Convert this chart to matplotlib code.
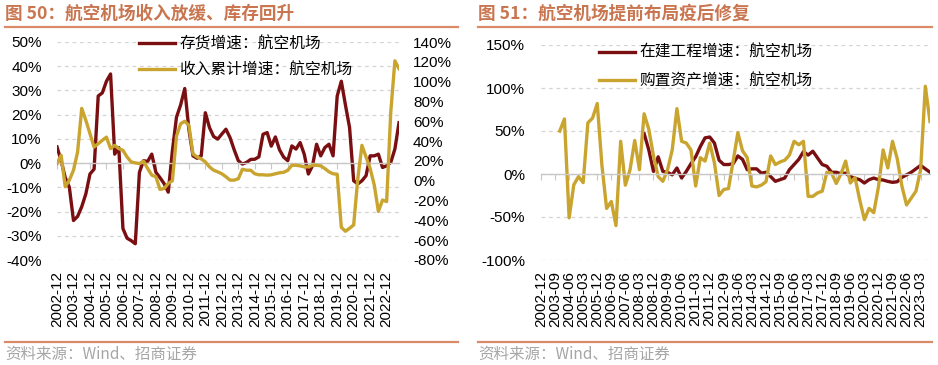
import matplotlib
matplotlib.use('Agg')
import matplotlib.pyplot as plt
from matplotlib.lines import Line2D

plt.rcParams['font.family'] = ['Liberation Sans', 'Noto Sans CJK SC', 'DejaVu Sans']
plt.rcParams['axes.unicode_minus'] = False

# ---------------- data ----------------
quarters = [f'{y}-{m:02d}' for y in range(2002, 2024) for m in (3, 6, 9, 12)]
quarters = quarters[quarters.index('2002-12'):quarters.index('2023-09') + 1]

# Fig 50 (left axis): inventory growth, airports (%)
inventory_growth = [6.7, 1, -6, -10, -23.7, -22, -18, -12.7, -4.5, -2.5,
                    27.7, 29, 33.8, 36.8, 3.7, 6.4, -27, -31, -32, -33.3,
                    -3.8, 1, 0.7, 3.7, -3.8, -6, -8.5, -12, 5, 19,
                    24, 30.8, 14, 3, 2, 3, 20.8, 14.7, 11, 9.9,
                    12, 14, 10.5, 5.5, 1, -0.4, 0.3, 1.5, 1.6, 2.6,
                    11.9, 12.6, 7, 10.8, 5.5, 2.5, 1, 7.1, 5.8, 8.5,
                    3.7, -4.5, -1.1, 7.8, 3, 6.4, 7.8, 3, 27.7, 33.8,
                    24, 14.7, -7.3, -8.6, -7.3, -5.2, 3, 3, 3.7, -1.8,
                    -1.1, 0.3, 5.8, 16.7]
# Fig 50 (right axis): cumulative revenue growth, airports (%)
revenue_growth = [17.3, 25.7, -6, 0.6, 10.6, 29, 73, 61, 47.5, 34,
                  37.4, 40.8, 44, 32.4, 35.7, 32.4, 30.7, 24, 19, 18,
                  17.3, 19.7, 12.3, 5.6, 4, -8.8, -7.8, -2.8, 0, 45,
                  57.5, 60, 56, 27, 24, 22, 19, 14, 10.6, 9,
                  7, 4, 0.6, 0.6, 2, 11.6, 10.6, 10.6, 7, 6,
                  6, 5.6, 6, 7, 8, 8.5, 10.5, 15.6, 15.6, 15,
                  14, 14, 15.6, 15.6, 15, 12.3, 9, 7, 6.6, -47,
                  -51, -48, -44.6, 2, 35.7, 24, 12.3, -4.4, -31, -19.5,
                  -21, 69, 121, 113]

# Fig 51: construction-in-progress growth, airports (%)
cip_growth = [None] * 22 + [47, 28, 3, 20, 3, 2, -1, 7, -4.6, 3,
                            12, 20, 32, 42, 43, 36, 16, 11, 11, 12,
                            21, 17, 5, 6, 6, 1, 2, -3, -8.5, -6.6,
                            -4.7, 5, 11, 17, 26, 22, 26.5, 18.7, 11, 9,
                            2, 2, 0.4, 1, -3, -5, -6.6, -10.5, -6.6, -4.7,
                            -6.6, -7, -8.6, -9.7, -9, -4, -1, 2, 6, 10,
                            6, 2]
# Fig 51: purchased-asset growth, airports (%)
purchase_growth = [None] * 4 + [50, 64, -51, -12.5, -3, -10, 59.5, 65, 82, 10,
                                -40, -32, -60, 38, -13, 5, 39, 5, 70, 52,
                                21, -3, -8.5, 5, 28, 76, 38, 36, 28, -14,
                                19, 15, 36, 13, -25, -18, -17, 15, 48, 27,
                                19, -14, -15, -13, -9, 21, 11, 14, 16, 22,
                                38, 34, 38, -26, -26, -22, -20, 2, 1, -11,
                                0, 15, -10.5, -4, -30, -53, -40, -45, -15, 28,
                                7, 38, 18, -14, -36, -28, -20, 5, 102, 61]

left_ticks = [q for q in quarters if q.endswith('-12') and q <= '2022-12']
right_ticks = quarters[0:82:3]

left_y = list(range(-40, 51, 10))
left_y2 = list(range(-80, 141, 20))
right_y = list(range(-100, 151, 50))

# ---------------- style ----------------
MAROON = '#7A0F12'
GOLD = '#C9A42E'
ACCENT = '#DA8A66'
TITLE_C = '#C97650'
GRID_C = '#D4D4D4'
AXIS_C = '#C8C8C8'
W, H = 938, 365

fig = plt.figure(figsize=(W / 100, H / 100), dpi=100)


def fx(px):
    return px / W


def fy(py):
    return 1 - py / H


def deco(x0, x1, title):
    fig.text(fx(x0), fy(14), title, fontsize=12.7, color=TITLE_C,
             fontweight='bold', va='center', ha='left',
             family=['Noto Sans CJK SC', 'DejaVu Sans'])
    fig.add_artist(Line2D([fx(x0), fx(x1)], [fy(27), fy(27)], color=ACCENT, lw=1.6))
    fig.add_artist(Line2D([fx(x0), fx(x1)], [fy(342), fy(342)], color=ACCENT, lw=1.6))
    fig.text(fx(x0), fy(354), '资料来源：Wind、招商证券', fontsize=11.2, color='#A6A6A6',
             va='center', ha='left', family=['Noto Sans CJK SC', 'DejaVu Sans'])


def base_axis(ax, ymin, ymax, yticks, n, tick_idx, tick_labels, ypad):
    ax.set_xlim(0, n - 1)
    ax.set_ylim(ymin, ymax)
    ax.set_yticks(yticks)
    ax.set_yticklabels([f'{v}%' for v in yticks], fontsize=11)
    ax.tick_params(axis='y', length=0, pad=ypad)
    ax.grid(axis='y', ls=(0, (3, 3)), color=GRID_C, lw=0.9)
    for s in ('top', 'right', 'left'):
        ax.spines[s].set_visible(False)
    ax.spines['bottom'].set_position(('data', 0))
    ax.spines['bottom'].set_color(AXIS_C)
    ax.spines['bottom'].set_linewidth(1.0)
    ax.set_xticks(tick_idx)
    ax.tick_params(axis='x', direction='out', length=4, color=AXIS_C, labelbottom=False)
    sec = ax.secondary_xaxis(0)
    sec.set_xticks(tick_idx)
    sec.set_xticklabels(tick_labels, rotation=90, fontsize=11)
    sec.tick_params(length=0, pad=8)
    sec.spines['bottom'].set_visible(False)
    ax.set_axisbelow(True)


x = list(range(len(quarters)))

# ---------------- Fig 50 ----------------
deco(5, 458, '图 50：航空机场收入放缓、库存回升')
ax1 = fig.add_axes([fx(57), fy(260), fx(399 - 57), (260 - 42) / H])
base_axis(ax1, -40, 50, left_y, len(quarters),
          [quarters.index(q) for q in left_ticks], left_ticks, 11)
l1, = ax1.plot(x, inventory_growth, color=MAROON, lw=2.4, solid_joinstyle='round',
               label='存货增速：航空机场')
ax1b = ax1.twinx()
ax1b.set_ylim(-80, 140)
ax1b.set_yticks(left_y2)
ax1b.set_yticklabels([f'{v}%' for v in left_y2], fontsize=11)
ax1b.tick_params(axis='y', length=0, pad=10)
for s in ax1b.spines.values():
    s.set_visible(False)
l2, = ax1b.plot(x, revenue_growth, color=GOLD, lw=2.4, solid_joinstyle='round',
                label='收入累计增速：航空机场')
ax1b.legend(handles=[l1, l2], loc='upper left', bbox_to_anchor=(fx(139), fy(35)),
            bbox_transform=fig.transFigure, frameon=False,
            handlelength=2.3, handletextpad=0.25, labelspacing=0.6,
            borderpad=0, borderaxespad=0,
            prop={'family': ['Noto Sans CJK SC', 'DejaVu Sans'], 'size': 11.3})

# ---------------- Fig 51 ----------------
deco(478, 932, '图 51：航空机场提前布局疫后修复')
ax2 = fig.add_axes([fx(541), fy(260), fx(930 - 541), (260 - 45) / H])
base_axis(ax2, -100, 150, right_y, len(quarters),
          [quarters.index(q) for q in right_ticks], right_ticks, 11.5)
r1, = ax2.plot(x, [float('nan') if v is None else v for v in cip_growth], color=MAROON,
               lw=2.4, solid_joinstyle='round', label='在建工程增速：航空机场')
r2, = ax2.plot(x, [float('nan') if v is None else v for v in purchase_growth], color=GOLD,
               lw=2.4, solid_joinstyle='round', label='购置资产增速：航空机场')
ax2.legend(handles=[r1, r2], loc='upper left', bbox_to_anchor=(fx(599), fy(44)),
           bbox_transform=fig.transFigure, frameon=False,
           handlelength=2.3, handletextpad=0.25, labelspacing=0.75,
           borderpad=0, borderaxespad=0,
           prop={'family': ['Noto Sans CJK SC', 'DejaVu Sans'], 'size': 11.3})

fig.savefig('out.png', dpi=100)
